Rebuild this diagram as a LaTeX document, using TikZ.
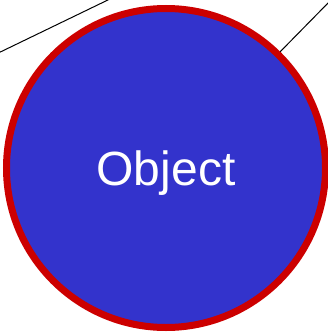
\documentclass[tikz,border=0pt]{standalone}
\usepackage{fontspec}
\setmainfont{Liberation Sans}
\usetikzlibrary{positioning}
\definecolor{objblue}{HTML}{3333CC}
\definecolor{objred}{HTML}{CC0000}

\begin{document}
\begin{tikzpicture}[
    x=1pt, y=-1pt,
    obj/.style={circle, draw=objred, line width=7pt, fill=objblue, minimum size=319pt, inner sep=0pt, text depth=0pt, text=white, font=\fontsize{48}{50}\selectfont},
    ln/.style={line width=1pt, black}
]
\useasboundingbox (0,0) rectangle (327,332);
\node[obj] (object) at (166,168) {Object};
\coordinate (la) at (-10,57);
\coordinate (lb) at (112,-2);
\coordinate (rb) at (331,0);
\draw[ln] (la) -- (lb);
\draw[ln] (object) -- (rb);
\end{tikzpicture}
\end{document}
